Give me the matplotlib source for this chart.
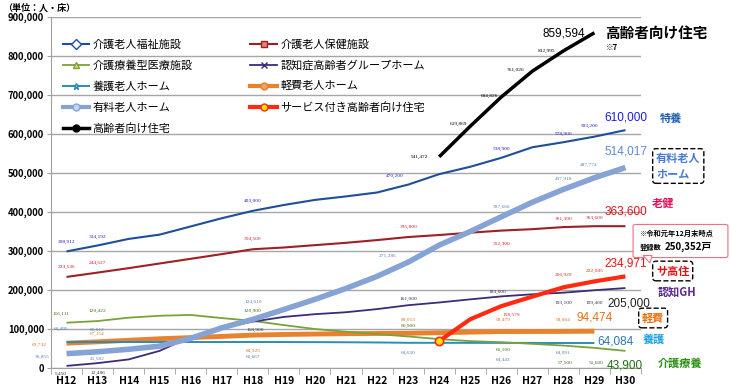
"""Care facility capacity trend chart (H12-H30)."""
import matplotlib

matplotlib.use("Agg")
import matplotlib.pyplot as plt  # noqa: E402
import numpy as np  # noqa: E402
from matplotlib.lines import Line2D  # noqa: E402
from matplotlib.patches import FancyBboxPatch, Polygon  # noqa: E402
from matplotlib.ticker import FuncFormatter  # noqa: E402

plt.rcParams['font.family'] = ['Noto Sans CJK JP', 'DejaVu Sans']

nan = np.nan
years = ["H12", "H13", "H14", "H15", "H16", "H17", "H18", "H19", "H20", "H21",
         "H22", "H23", "H24", "H25", "H26", "H27", "H28", "H29", "H30"]

fukushi = [298912, 314192, 331000, 342000, 363000, 384000, 403000, 418000, 431000, 440000,
           450000, 470200, 497000, 516000, 538900, 566000, 578900, 593200, 610000]
roken = [233536, 244627, 256000, 268000, 280000, 292000, 304500, 309000, 315000, 321000,
         328000, 335800, 341000, 347000, 352300, 356000, 361300, 363600, 363600]
ryoyo = [116111, 120422, 129000, 134000, 136000, 128000, 120900, 110000, 100000, 93000,
         87000, 80900, 74000, 69000, 66100, 62000, 57500, 51600, 43900]
gh = [5450, 12486, 22000, 44000, 80000, 103000, 118900, 131000, 138000, 143000,
      151000, 161000, 168000, 176000, 183600, 189000, 193100, 199400, 205000]
yogo = [66495, 66612, 66600, 66600, 66600, 66650, 66667, 66500, 66300, 66000,
        65500, 64630, 64500, 64500, 64443, 64300, 64091, 64084, nan]
keihi = [63732, 67154, 71000, 75000, 78000, 81000, 84325, 86000, 87000, 88000,
         88500, 89053, 90500, 92000, 93479, 93600, 93804, 94474, nan]
yuryo = [36855, 41582, 48000, 56000, 76000, 103000, 124610, 150000, 176000, 204000,
         235000, 271286, 315000, 350000, 387666, 425000, 457918, 487774, 514017]
sakoju = [nan] * 12 + [69000, 125000, 158579, 183000, 206929, 222085, 234971]
koreisha = [nan] * 12 + [541472, 619869, 694826, 761026, 812995, 859594, nan]

W, H = 730, 389


def fp(px, py):
    """pixel position -> figure fraction"""
    return px / W, 1 - py / H


fig = plt.figure(figsize=(W / 100, H / 100), dpi=100)
ax = fig.add_axes([51 / W, (H - 368) / H, (641 - 51) / W, (368 - 17) / H])
x = np.arange(len(years))

series = [
    # key, label, values, color, lw, zorder, marker, mfc
    ("fukushi", "介護老人福祉施設", fukushi, "#1f4e9a", 1.5, 5, "D", "white"),
    ("ryoyo", "介護療養型医療施設", ryoyo, "#78a23a", 1.3, 4, "^", "#f5d060"),
    ("yogo", "養護老人ホーム", yogo, "#2a8db5", 1.4, 3, "*", "#9ad0e8"),
    ("yuryo", "有料老人ホーム", yuryo, "#86a3d6", 4.0, 7, "o", "#c6d6f0"),
    ("koreisha", "高齢者向け住宅", koreisha, "#000000", 2.5, 9, "o", "#000000"),
    ("roken", "介護老人保健施設", roken, "#a01f22", 1.5, 5, "s", "#e88080"),
    ("gh", "認知症高齢者グループホーム", gh, "#3b2b7a", 1.3, 5, "x", "white"),
    ("keihi", "軽費老人ホーム", keihi, "#e8822e", 3.5, 2, "o", "#f0a060"),
    ("sakoju", "サービス付き高齢者向け住宅", sakoju, "#ff2a10", 3.0, 8, "o", "#ffe000"),
]

handles = []
for key, name, vals, col, lw, z, mk, mfc in series:
    ax.plot(x, vals, color=col, lw=lw, zorder=z, solid_capstyle="butt")
    handles.append(Line2D([], [], color=col, lw=min(lw, 3.0), marker=mk, markersize=5,
                          markerfacecolor=mfc, markeredgecolor=col, label=name))

# yellow marker on the first サ高住 point
ax.plot(x[12], sakoju[12], "o", ms=6, mfc="#ffe000", mec="#ff2a10", mew=1.2, zorder=10)

# small value labels: (index, dx px, dy px)  dy>0 = above
label_specs = {
    "fukushi": [(0, 0, 9), (1, 0, 9), (6, 0, 10), (11, -13, 9), (14, 0, 9), (16, 0, 8), (17, -5, 11)],
    "roken": [(0, 0, 10), (1, 0, 10), (6, 0, 10), (11, 0, 10), (14, 0, -13), (16, 0, 8), (17, 0, 8)],
    "ryoyo": [(0, -6, 9), (1, 0, 10), (6, 0, 10), (11, 0, 10), (14, 2, -8), (16, 2, -17), (17, 2, -15)],
    "yogo": [(0, -5, 13), (1, 0, 12), (6, 0, -15), (11, 0, -10), (14, 2, -17), (16, 0, -10)],
    "keihi": [(0, -27, -2), (1, 0, 8), (6, 0, -16), (11, 0, 13), (14, 2, 12), (16, 0, 11)],
    "yuryo": [(0, -24, -3), (1, 0, -7), (6, 0, 17), (11, -20, 6), (14, 0, 10), (16, 0, 10), (17, -6, 13)],
    "gh": [(0, -6, -8), (1, 0, -10), (6, 2, -8), (11, 0, 6), (14, -4, 4), (16, 0, -10), (17, 0, -13)],
    "sakoju": [(14, 10, -9), (16, 0, 12), (17, 0, 10)],
    "koreisha": [(12, -20, 0), (13, -12, 2), (14, -12, 1), (15, -17, 1), (16, -17, 0)],
}
label_colors = {"fukushi": "#2020c0", "roken": "#d02030", "ryoyo": "#3a6e10",
                "yogo": "#4a7fa8", "keihi": "#e07020", "yuryo": "#5a80c0",
                "gh": "#303050", "sakoju": "#e03020", "koreisha": "#000000"}
for key, name, vals, col, lw, z, mk, mfc in series:
    for i, dx, dy in label_specs[key]:
        ax.annotate(f"{vals[i]:,}", (x[i], vals[i]), xytext=(dx * 0.72, dy * 0.72),
                    textcoords="offset points", ha="center", va="center",
                    fontsize=3.9, family="Liberation Serif",
                    color=label_colors[key], zorder=12)

# axes styling
ax.set_xlim(-0.5, len(years) - 0.5)
ax.set_ylim(0, 900000)
ax.set_yticks(np.arange(0, 900001, 100000))
ax.yaxis.set_major_formatter(FuncFormatter(lambda v, p: f"{int(v):,}"))
ax.set_xticks(x)
ax.set_xticklabels(years)
ax.set_xticks(np.arange(-0.5, len(years), 1), minor=True)
ax.tick_params(axis="x", which="major", length=0, pad=6, labelsize=7.5)
ax.tick_params(axis="x", which="minor", length=4, color="#a0a0a0")
ax.tick_params(axis="y", length=3, color="#a0a0a0", labelsize=6.8, pad=2)
for lab in ax.get_xticklabels() + ax.get_yticklabels():
    lab.set_fontweight("bold")
ax.grid(axis="y", color="#a6a6a6", lw=1.0, zorder=0)
for s in ["top", "right"]:
    ax.spines[s].set_visible(False)
for s in ["left", "bottom"]:
    ax.spines[s].set_color("#a0a0a0")

leg = ax.legend(handles=handles, ncol=2, loc="upper left", bbox_to_anchor=(0.012, 0.95),
                frameon=False, fontsize=8, handlelength=2.4, handletextpad=0.3,
                labelspacing=0.95, columnspacing=5.2, borderaxespad=0)
leg.set_zorder(20)

fig.text(*fp(3, 8), "（単位：人・床）", fontsize=6.5, fontweight="bold", va="center", ha="left")

# right-hand annotations
big = [
    (fukushi[-1], 626, 117, "#1a1ae0"),
    (yuryo[-1], 626, 152, "#5b8bd0"),
    (roken[-1], 626, 212, "#e0101a"),
    (sakoju[-1], 626, 263, "#ee1010"),
    (gh[-1], 629, 303, "#202020"),
    (keihi[17], 595, 318, "#e87010"),
    (yogo[17], 616, 341, "#2a7ab0"),
    (ryoyo[-1], 625, 366, "#207010"),
    (koreisha[17], 564, 33, "#000000"),
]
for v, px, py, col in big:
    fig.text(*fp(px, py), f"{v:,}", fontsize=8.5, family="Liberation Sans",
             color=col, ha="center", va="center")

fig.text(*fp(605, 33), "高齢者向け住宅", fontsize=10.5, fontweight="bold", ha="left", va="center")
fig.text(*fp(606, 47), "※7", fontsize=5.5, fontweight="bold", ha="left", va="center")
fig.text(*fp(660, 118), "特養", fontsize=8, fontweight="bold", color="#1f5faf", ha="left", va="center")
fig.text(*fp(652, 203), "老健", fontsize=8, fontweight="bold", color="#e0105a", ha="left", va="center")
fig.text(*fp(658, 292), "認知GH", fontsize=8, fontweight="bold", color="#5a2a90", ha="left", va="center")
fig.text(*fp(643, 339), "養護", fontsize=8, fontweight="bold", color="#1ea0e0", ha="left", va="center")
fig.text(*fp(658, 363), "介護療養", fontsize=8, fontweight="bold", color="#2a9010", ha="left", va="center")

dash_box = dict(boxstyle="round,pad=0.3", fc="white", ec="black", ls="--", lw=1.0)
fig.text(*fp(656, 166), "有料老人\nホーム", fontsize=8, fontweight="bold", color="#4a7ad0",
         ha="left", va="center", linespacing=1.2, bbox=dash_box)
fig.text(*fp(656, 271), "サ高住", fontsize=8, fontweight="bold", color="#e01010",
         ha="left", va="center", bbox=dash_box)
fig.text(*fp(642, 318), "軽費", fontsize=8, fontweight="bold", color="#e87010",
         ha="left", va="center", bbox=dash_box)

# callout box for registered count
x0, y0 = fp(636, 256)
x1, y1 = fp(725, 226)
callout = FancyBboxPatch((x0, y0), x1 - x0, y1 - y0, boxstyle="round,pad=0.004",
                         transform=fig.transFigure, fc="white", ec="#f07080", lw=0.8, zorder=30)
fig.add_artist(callout)
tail = Polygon([fp(643, 255.5), fp(652, 255.5), fp(650, 263)], closed=True,
               transform=fig.transFigure, fc="white", ec="#f07080", lw=0.8, zorder=31)
fig.add_artist(tail)
fig.text(*fp(640, 233), "※令和元年12月末時点", fontsize=5.2, fontweight="bold",
         ha="left", va="center", zorder=32)
fig.text(*fp(640, 247), "登録数", fontsize=5.2, fontweight="bold", ha="left", va="center", zorder=32)
fig.text(*fp(665, 247), "250,352戸", fontsize=7, fontweight="bold", ha="left", va="center", zorder=32)

fig.savefig("out.png", dpi=100)
plt.close(fig)
